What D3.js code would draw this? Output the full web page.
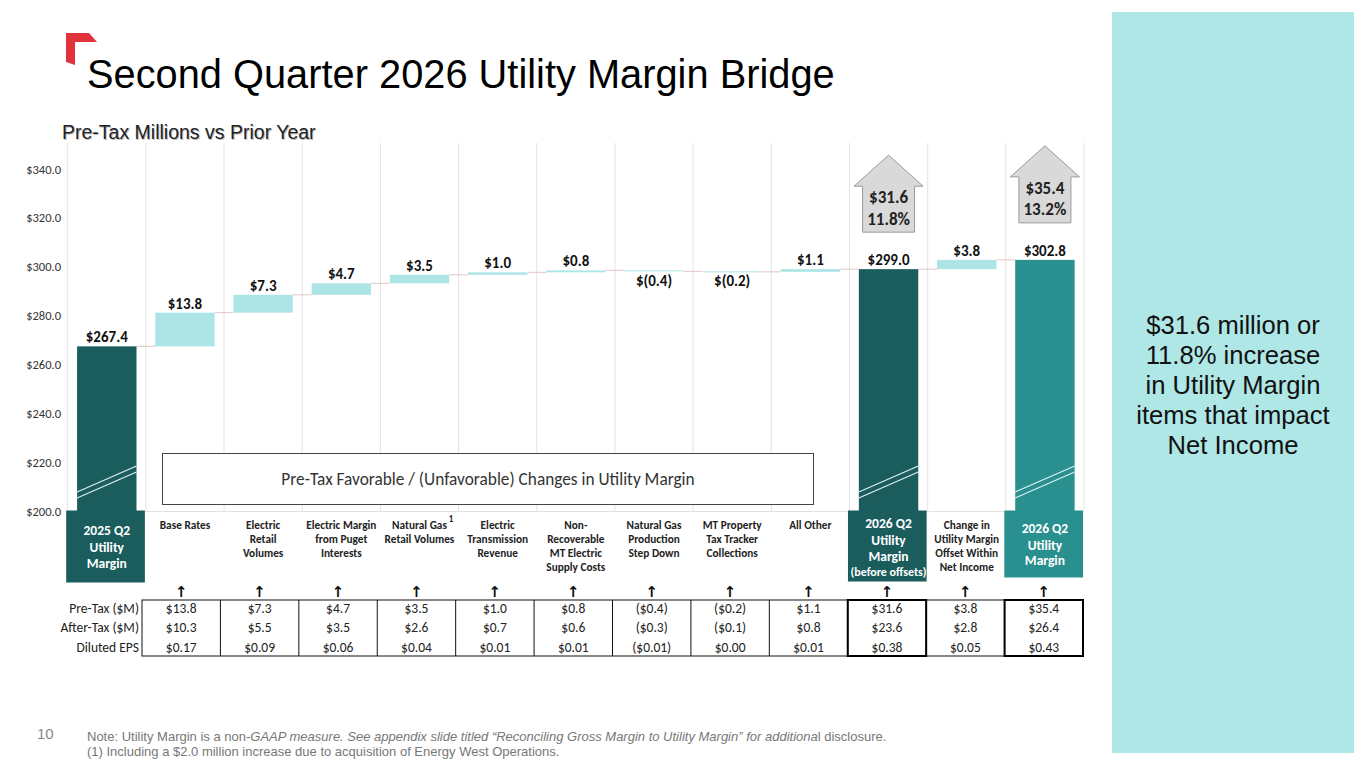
<!DOCTYPE html>
<html>
<head>
<meta charset="utf-8">
<script src="https://cdn.jsdelivr.net/npm/d3@7/dist/d3.min.js"></script>
<style>
  html, body { margin: 0; padding: 0; background: #fff; }
  svg { display: block; }
</style>
</head>
<body>
<svg id="chart" width="1365" height="768"></svg>
<script>
// ---------------- DATA ----------------
const categories = [
  ["2025 Q2", "Utility", "Margin"],
  ["Base Rates"],
  ["Electric", "Retail", "Volumes"],
  ["Electric Margin", "from Puget", "Interests"],
  ["Natural Gas", "Retail Volumes"],
  ["Electric", "Transmission", "Revenue"],
  ["Non-", "Recoverable", "MT Electric", "Supply Costs"],
  ["Natural Gas", "Production", "Step Down"],
  ["MT Property", "Tax Tracker", "Collections"],
  ["All Other"],
  ["2026 Q2", "Utility", "Margin", "(before offsets)"],
  ["Change in", "Utility Margin", "Offset Within", "Net Income"],
  ["2026 Q2", "Utility", "Margin"]
];
const barTypes = ["total", "delta", "delta", "delta", "delta", "delta", "delta", "delta", "delta", "delta", "total", "delta", "total2"];
const barValues = [267.4, 13.8, 7.3, 4.7, 3.5, 1.0, 0.8, -0.4, -0.2, 1.1, 299.0, 3.8, 302.8];
const valueLabels = ["$267.4", "$13.8", "$7.3", "$4.7", "$3.5", "$1.0", "$0.8", "$(0.4)", "$(0.2)", "$1.1", "$299.0", "$3.8", "$302.8"];
const yTicks = [200, 220, 240, 260, 280, 300, 320, 340];

const callouts = [
  { index: 10, lines: ["$31.6", "11.8%"] },
  { index: 12, lines: ["$35.4", "13.2%"] }
];

const tableRowLabels = ["Pre-Tax ($M)", "After-Tax ($M)", "Diluted EPS"];
const preTax   = ["$13.8", "$7.3", "$4.7", "$3.5", "$1.0", "$0.8", "($0.4)", "($0.2)", "$1.1", "$31.6", "$3.8", "$35.4"];
const afterTax = ["$10.3", "$5.5", "$3.5", "$2.6", "$0.7", "$0.6", "($0.3)", "($0.1)", "$0.8", "$23.6", "$2.8", "$26.4"];
const dilutedEps = ["$0.17", "$0.09", "$0.06", "$0.04", "$0.01", "$0.01", "($0.01)", "$0.00", "$0.01", "$0.38", "$0.05", "$0.43"];
const tableHighlight = [9, 11];

const titleText = "Second Quarter 2026 Utility Margin Bridge";
const subtitleText = "Pre-Tax Millions vs Prior Year";
const boxText = "Pre-Tax Favorable / (Unfavorable) Changes in Utility Margin";
const sideText = ["$31.6 million or", "11.8% increase", "in Utility Margin", "items that impact", "Net Income"];
const pageNumber = "10";

// ---------------- STYLE ----------------
const C = {
  dark: "#1b5d5d",
  final: "#2a8f8f",
  delta: "#ade5e6",
  grid: "#e3e3e3",
  conn: "#e5c6c6",
  panel: "#afe6e6",
  red: "#e2323b"
};
const calibri = "Carlito, Lato, 'Open Sans', sans-serif";
const arial = "'Liberation Sans', Arial, sans-serif";

const svg = d3.select("#chart");

// ---------------- SCALES ----------------
const x = d3.scaleBand()
  .domain(d3.range(categories.length))
  .range([67.7, 1084])
  .paddingInner(0.24)
  .paddingOuter(0.12);
const step = x.step();
const colLeft = i => x(i) - step * 0.12;
const y = d3.scaleLinear().domain([200, 340]).range([511, 169]);
const plotTop = 143;

// compute bar extents
let running = 0;
const bars = barValues.map((v, i) => {
  let y0, y1;
  if (barTypes[i] !== "delta") { y0 = 200; y1 = v; running = v; }
  else { y0 = running; y1 = running + v; running = y1; }
  return { i, v, y0, y1, lo: Math.min(y0, y1), hi: Math.max(y0, y1), type: barTypes[i], end: running };
});

// ---------------- SIDE PANEL ----------------
svg.append("rect").attr("x", 1112).attr("y", 12).attr("width", 242).attr("height", 741).attr("fill", C.panel);
svg.append("g").selectAll("text").data(sideText).join("text")
  .attr("x", 1233).attr("y", (d, i) => 334 + i * 30)
  .attr("text-anchor", "middle")
  .attr("font-family", arial).attr("font-size", 25.6).attr("fill", "#111")
  .text(d => d);

// ---------------- TITLE ----------------
svg.append("path")
  .attr("d", "M66,33 L89,33 L97,42 L75,42 L75,65 L66,62 Z")
  .attr("fill", C.red);
svg.append("text").attr("x", 87).attr("y", 88)
  .attr("font-family", arial).attr("font-size", 39.8).attr("fill", "#000")
  .text(titleText);
svg.append("text").attr("x", 63).attr("y", 140)
  .attr("font-family", arial).attr("font-size", 19.5).attr("fill", "#bbb")
  .text(subtitleText);
svg.append("text").attr("x", 62).attr("y", 139)
  .attr("font-family", arial).attr("font-size", 19.5).attr("fill", "#222")
  .text(subtitleText);

// ---------------- GRID ----------------
const gridG = svg.append("g");
gridG.selectAll("line").data(d3.range(categories.length + 1)).join("line")
  .attr("x1", i => colLeft(0) + i * step).attr("x2", i => colLeft(0) + i * step)
  .attr("y1", plotTop).attr("y2", y(200))
  .attr("stroke", C.grid).attr("stroke-width", 1);
gridG.append("line")
  .attr("x1", colLeft(0)).attr("x2", colLeft(0) + categories.length * step)
  .attr("y1", y(200) + 0.5).attr("y2", y(200) + 0.5)
  .attr("stroke", C.grid).attr("stroke-width", 1);

// ---------------- Y AXIS ----------------
const yAxis = d3.axisLeft(y).tickValues(yTicks).tickSize(0).tickPadding(0)
  .tickFormat(d => "$" + d.toFixed(1));
const ax = svg.append("g").attr("transform", "translate(61,0)").call(yAxis);
ax.select(".domain").remove();
ax.selectAll("text").attr("font-family", calibri).attr("font-size", 12.5).attr("fill", "#333");

// ---------------- CONNECTORS ----------------
svg.append("g").selectAll("line").data(bars.slice(0, -1)).join("line")
  .attr("x1", d => x(d.i) + x.bandwidth())
  .attr("x2", d => x(d.i + 1))
  .attr("y1", d => y(d.end)).attr("y2", d => y(d.end))
  .attr("stroke", C.conn).attr("stroke-width", 1);

// ---------------- BARS ----------------
const colorOf = d => d.type === "total" ? C.dark : d.type === "total2" ? C.final : C.delta;
svg.append("g").selectAll("rect").data(bars).join("rect")
  .attr("x", d => x(d.i)).attr("width", x.bandwidth())
  .attr("y", d => y(d.hi))
  .attr("height", d => Math.max(1, y(d.lo) - y(d.hi)))
  .attr("fill", colorOf);

// axis-break diagonals on total bars
const breakG = svg.append("g");
bars.filter(d => d.type !== "delta").forEach(d => {
  const xl = x(d.i), xr = x(d.i) + x.bandwidth(), yb = y(200);
  [[19, 45], [13, 39]].forEach(([a, b]) => {
    breakG.append("line")
      .attr("x1", xl).attr("y1", yb - a).attr("x2", xr).attr("y2", yb - b)
      .attr("stroke", "#d8eeee").attr("stroke-width", 1.3);
  });
});

// value labels
svg.append("g").selectAll("text").data(bars).join("text")
  .attr("x", d => x(d.i) + x.bandwidth() / 2)
  .attr("y", d => d.v < 0 && d.type === "delta" ? y(d.lo) + 14.5 : y(d.hi) - 4)
  .attr("text-anchor", "middle")
  .attr("font-family", calibri).attr("font-weight", 700).attr("font-size", 15)
  .attr("fill", "#111")
  .text((d, i) => valueLabels[i]);

// ---------------- CALLOUT ARROWS ----------------
callouts.forEach(c => {
  const b = bars[c.index];
  const cx = x(c.index) + x.bandwidth() / 2;
  const bottom = y(b.hi) - 37;
  const tip = bottom - 77;
  const headBase = tip + 31;
  const hw = 34.5, bw = 26;
  const pts = [[cx, tip], [cx + hw, headBase], [cx + bw, headBase], [cx + bw, bottom],
               [cx - bw, bottom], [cx - bw, headBase], [cx - hw, headBase]];
  svg.append("path").attr("d", "M" + pts.map(p => p.join(",")).join("L") + "Z")
    .attr("fill", "#d9d9d9").attr("stroke", "#9a9a9a").attr("stroke-width", 1);
  svg.append("g").selectAll("text").data(c.lines).join("text")
    .attr("x", cx).attr("y", (d, i) => headBase + 17 + i * 21.5)
    .attr("text-anchor", "middle")
    .attr("font-family", calibri).attr("font-weight", 700).attr("font-size", 17)
    .attr("fill", "#222").text(d => d);
});

// ---------------- TEXT BOX ----------------
svg.append("rect").attr("x", 162.5).attr("y", 453.5).attr("width", 651).attr("height", 51)
  .attr("fill", "#fff").attr("stroke", "#444").attr("stroke-width", 1);
svg.append("text").attr("x", 488).attr("y", 484.5).attr("text-anchor", "middle")
  .attr("font-family", calibri).attr("font-size", 17.3).attr("fill", "#333")
  .text(boxText);

// ---------------- CATEGORY LABELS ----------------
const catG = svg.append("g");
categories.forEach((lines, i) => {
  const t = barTypes[i];
  const cx = colLeft(i) + step / 2;
  if (t === "delta") {
    lines.forEach((ln, k) => {
      catG.append("text").attr("x", cx).attr("y", 529 + k * 14)
        .attr("text-anchor", "middle")
        .attr("font-family", calibri).attr("font-weight", 700).attr("font-size", 11.3)
        .attr("fill", "#222").text(ln);
    });
  } else {
    const bx = colLeft(i) - 1.5;
    const bh = t === "total2" ? 67 : (lines.length === 4 ? 71 : 72);
    catG.append("rect").attr("x", bx).attr("y", 510.5).attr("width", step + 0.5).attr("height", bh)
      .attr("fill", t === "total2" ? C.final : C.dark);
    let ys;
    if (lines.length === 4) ys = [528, 544.5, 561, 575.5];
    else if (t === "total2") ys = [533, 549.5, 565];
    else ys = [535, 552, 568];
    lines.forEach((ln, k) => {
      catG.append("text").attr("x", cx).attr("y", ys[k])
        .attr("text-anchor", "middle")
        .attr("font-family", calibri).attr("font-weight", 700)
        .attr("font-size", k === 3 ? 12 : 13.5)
        .attr("fill", "#fff").text(ln);
    });
  }
});
// footnote marker
catG.append("text").attr("x", 451).attr("y", 522)
  .attr("text-anchor", "middle")
  .attr("font-family", calibri).attr("font-weight", 700).attr("font-size", 9)
  .attr("fill", "#222").text("1");

// ---------------- TABLE ----------------
const tx = d3.scaleBand().domain(d3.range(preTax.length)).range([142, 1083]);
const rowsY = [612.5, 632, 651.5];
const rowsData = [preTax, afterTax, dilutedEps];
const tableTop = 600, tableBottom = 656;

const tG = svg.append("g");
// up arrows
tG.selectAll("text.arrow").data(d3.range(preTax.length)).join("text")
  .attr("class", "arrow")
  .attr("x", i => tx(i) + tx.bandwidth() / 2).attr("y", 597)
  .attr("text-anchor", "middle")
  .attr("font-family", "'DejaVu Sans', sans-serif").attr("font-weight", 700).attr("font-size", 15)
  .attr("fill", "#111").text("↑");
// borders
tG.append("rect").attr("x", 142).attr("y", tableTop).attr("width", 1083 - 142).attr("height", tableBottom - tableTop)
  .attr("fill", "none").attr("stroke", "#111").attr("stroke-width", 1);
tG.selectAll("line.v").data(d3.range(1, preTax.length)).join("line")
  .attr("class", "v")
  .attr("x1", i => tx(i)).attr("x2", i => tx(i))
  .attr("y1", tableTop).attr("y2", tableBottom)
  .attr("stroke", "#111").attr("stroke-width", 1);
tableHighlight.forEach(i => {
  tG.append("rect").attr("x", tx(i)).attr("y", tableTop).attr("width", tx.bandwidth()).attr("height", tableBottom - tableTop)
    .attr("fill", "none").attr("stroke", "#000").attr("stroke-width", 2);
});
// row labels
tG.selectAll("text.rl").data(tableRowLabels).join("text")
  .attr("class", "rl")
  .attr("x", 139).attr("y", (d, k) => rowsY[k])
  .attr("text-anchor", "end")
  .attr("font-family", calibri).attr("font-size", 13.5).attr("fill", "#222")
  .text(d => d);
rowsData.forEach((row, k) => {
  tG.append("g").selectAll("text").data(row).join("text")
    .attr("x", (d, i) => tx(i) + tx.bandwidth() / 2).attr("y", rowsY[k])
    .attr("text-anchor", "middle")
    .attr("font-family", calibri).attr("font-size", 13.5).attr("fill", "#222")
    .text(d => d);
});

// ---------------- FOOTER ----------------
svg.append("text").attr("x", 37).attr("y", 739)
  .attr("font-family", arial).attr("font-size", 15).attr("fill", "#888").text(pageNumber);
const foot = svg.append("text").attr("x", 87).attr("y", 741)
  .attr("font-family", "'Liberation Sans Narrow', 'Liberation Sans', Arial, sans-serif")
  .attr("font-size", 13).attr("fill", "#777");
foot.append("tspan").text("Note: Utility Margin is a non-");
foot.append("tspan").attr("font-style", "italic")
  .text("GAAP measure. See appendix slide titled \u201CReconciling Gross Margin to Utility Margin\u201D for additiona");
foot.append("tspan").text("l disclosure.");
svg.append("text").attr("x", 87).attr("y", 756)
  .attr("font-family", "'Liberation Sans Narrow', 'Liberation Sans', Arial, sans-serif")
  .attr("font-size", 13).attr("fill", "#777")
  .text("(1) Including a $2.0 million increase due to acquisition of Energy West Operations.");
</script>
</body>
</html>
